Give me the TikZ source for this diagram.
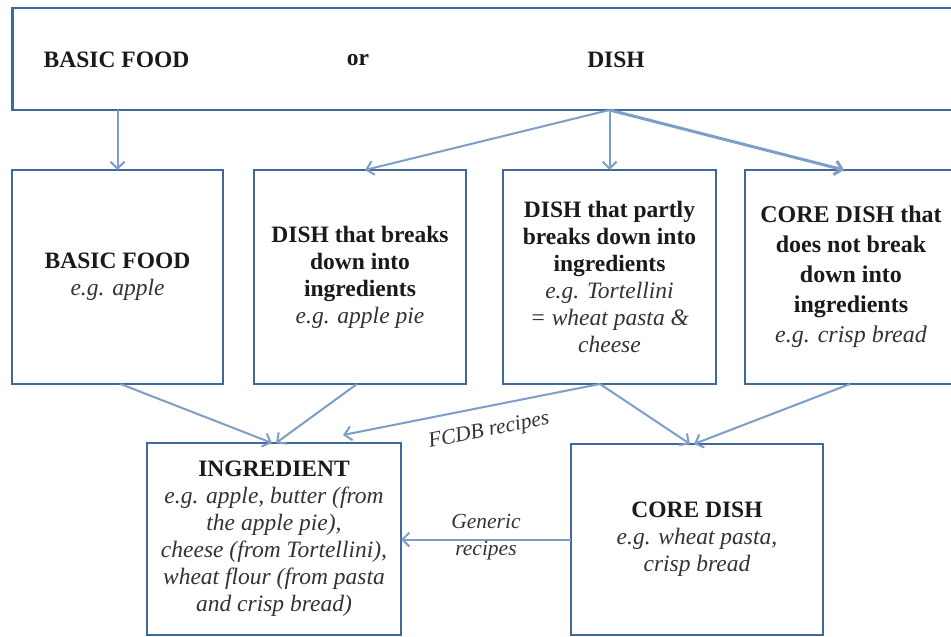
\documentclass[tikz,border=0pt]{standalone}
\usepackage{fontspec}
\setmainfont{Liberation Serif}
\usetikzlibrary{arrows.meta,calc}
\definecolor{boxc}{HTML}{41689B}
\definecolor{arrc}{HTML}{7E9EC8}
\definecolor{txtc}{HTML}{1A1A1A}
\definecolor{itc}{HTML}{333333}
\begin{document}
\begin{tikzpicture}[x=1pt,y=-1pt,
  box/.style={draw=boxc, line width=2.6pt, fill=white, inner sep=0pt, outer sep=0pt,
    align=center, text=txtc, font=\fontsize{23.5}{27}\selectfont\bfseries},
  toptext/.style={text=txtc, font=\fontsize{23.5}{27}\selectfont\bfseries, inner sep=0pt},
  arr/.style={draw=arrc, line width=2pt, -{Straight Barb[length=7pt,width=14pt]}},
  lbl/.style={text=itc, font=\fontsize{21.5}{27}\selectfont\itshape, align=center, inner sep=0pt}]
\newcommand\egx[1]{{\normalfont\itshape\color{itc}#1}}
\useasboundingbox (0,0) rectangle (951,637);
\fill[white] (0,0) rectangle (951,637);

% top box
\node[box, minimum width=950pt, minimum height=102pt] (top) at (487.5,59) {};
\node[toptext] (tb) at (116.5,60) {BASIC FOOD};
\node[toptext] (tor) at (358,60) {or};
\node[toptext] (td) at (616,60) {DISH};

% middle row
\node[box, minimum width=211pt, minimum height=214pt] (b1) at (117.5,277)
  {BASIC FOOD\\\egx{e.g. apple}};
\node[box, minimum width=212pt, minimum height=214pt] (b2) at (360,277)
  {DISH that breaks\\down into\\ingredients\\\egx{e.g. apple pie}};
\node[box, minimum width=213pt, minimum height=214pt] (b3) at (609.5,277)
  {DISH that partly\\breaks down into\\ingredients\\\egx{e.g. Tortellini}\\\egx{= wheat pasta \&}\\\egx{cheese}};
\node[box, minimum width=212pt, minimum height=214pt,
  font=\fontsize{24}{30}\selectfont\bfseries] (b4) at (851,277)
  {CORE DISH that\\does not break\\down into\\ingredients\\\egx{e.g. crisp bread}};

% bottom row
\node[box, minimum width=254pt, minimum height=192pt] (ing) at (274,539)
  {INGREDIENT\\\egx{e.g. apple, butter (from}\\\egx{the apple pie),}\\\egx{cheese (from Tortellini),}\\\egx{wheat flour (from pasta}\\\egx{and crisp bread)}};
\node[box, minimum width=252pt, minimum height=191pt] (core) at (697,539.5)
  {CORE DISH\\\egx{e.g. wheat pasta,}\\\egx{crisp bread}};

% connectors
\coordinate (f) at (b3.north |- top.south);
\draw[arr] (b1.north |- top.south) -- (b1.north);
\draw[arr] (f) -- ([xshift=5pt]b2.north);
\draw[arr] (f) -- (b3.north);
\draw[arr, line width=3pt] (f) -- ([xshift=-7pt]b4.north);

\draw[arr] ([xshift=3pt]b1.south) -- ([xshift=-2pt]ing.north);
\draw[arr] ([xshift=-3pt]b2.south) -- ([xshift=2pt]ing.north);
\draw[arr] ([xshift=-9.5pt]b3.south) -- ([xshift=69pt,yshift=8pt]ing.north);
\draw[arr] ([xshift=-9.5pt]b3.south) -- ([xshift=-7pt]core.north);
\draw[arr] ([xshift=-1pt]b4.south) -- ([xshift=-3pt]core.north);
\draw[arr] (core.west) -- (core.west -| ing.east);

% labels
\node[lbl, rotate=11.5] (lf) at (489,431) {FCDB recipes};
\node[lbl] (lg) at (486,537) {Generic\\recipes};
\end{tikzpicture}
\end{document}
